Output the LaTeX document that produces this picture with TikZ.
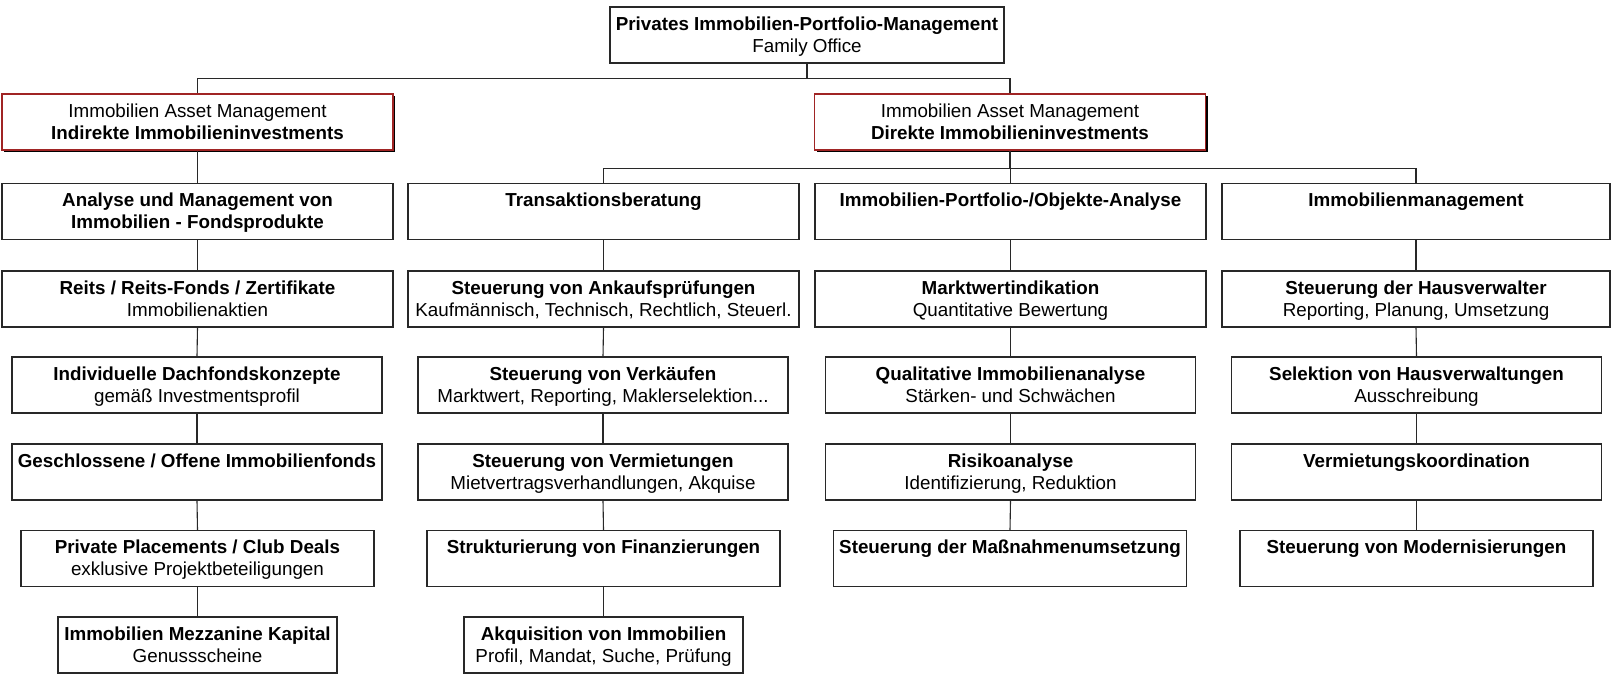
\documentclass[tikz,border=0pt]{standalone}
\usepackage{fontspec}
\setmainfont{Liberation Sans}
\usetikzlibrary{shadows}
\definecolor{redb}{RGB}{160,36,36}
\definecolor{linec}{RGB}{40,40,40}
\newcommand{\myT}{\rule{0pt}{8.7pt}}
\newcommand{\myB}{\rule[-2.3pt]{0pt}{2.3pt}}
\newcommand{\twoline}[2]{\myT#1\\#2\myB}
\tikzset{
 box/.style={draw=linec, line width=0.55pt, fill=white, align=center, inner sep=0pt,
   font=\fontsize{9.4pt}{11pt}\selectfont, minimum height=28pt},
 redbox/.style={box, draw=redb, drop shadow={shadow xshift=1pt, shadow yshift=-1pt, fill=black, opacity=1}},
 wA/.style={minimum width=195.5pt},
 wD/.style={minimum width=194pt},
 wB/.style={minimum width=185pt},
 wC/.style={minimum width=176.5pt},
 wE/.style={minimum width=139.5pt},
 wT/.style={minimum width=197pt},
 conn/.style={draw=linec, line width=0.55pt}
}
\begin{document}
\begin{tikzpicture}[x=0.5pt,y=-0.5pt]
\useasboundingbox (0,0) rectangle (1611,674);
% top
\node[box,wT] (top) at (807,35) {\twoline{\textbf{Privates Immobilien-Portfolio-Management}}{Family Office}};
\node[redbox,wA] (redL) at (197.5,122) {\twoline{Immobilien Asset Management}{\textbf{Indirekte Immobilieninvestments}}};
\node[redbox,wA] (redR) at (1010,122) {\twoline{Immobilien Asset Management}{\textbf{Direkte Immobilieninvestments}}};
% column 1
\node[box,wA] (a2) at (197.5,211.5) {\twoline{\textbf{Analyse und Management von}}{\textbf{Immobilien - Fondsprodukte}}};
\node[box,wA] (a3) at (197.5,299) {\twoline{\textbf{Reits / Reits-Fonds / Zertifikate}}{Immobilienaktien}};
\node[box,wB] (a4) at (197,385) {\twoline{\textbf{Individuelle Dachfondskonzepte}}{gemäß Investmentsprofil}};
\node[box,wB] (a5) at (197,472) {\twoline{\textbf{Geschlossene / Offene Immobilienfonds}}{}};
\node[box,wC] (a6) at (197.5,558.5) {\twoline{\textbf{Private Placements / Club Deals}}{exklusive Projektbeteiligungen}};
\node[box,wE] (a7) at (197.5,645) {\twoline{\textbf{Immobilien Mezzanine Kapital}}{Genussscheine}};
% column 2
\node[box,wA] (b2) at (603.5,211.5) {\twoline{\textbf{Transaktionsberatung}}{}};
\node[box,wA] (b3) at (603.5,299) {\twoline{\textbf{Steuerung von Ankaufsprüfungen}}{Kaufmännisch, Technisch, Rechtlich, Steuerl.}};
\node[box,wB] (b4) at (603,385) {\twoline{\textbf{Steuerung von Verkäufen}}{Marktwert, Reporting, Maklerselektion...}};
\node[box,wB] (b5) at (603,472) {\twoline{\textbf{Steuerung von Vermietungen}}{Mietvertragsverhandlungen, Akquise}};
\node[box,wC] (b6) at (603.5,558.5) {\twoline{\textbf{Strukturierung von Finanzierungen}}{}};
\node[box,wE] (b7) at (603.5,645) {\twoline{\textbf{Akquisition von Immobilien}}{Profil, Mandat, Suche, Prüfung}};
% column 3
\node[box,wA] (c2) at (1010.5,211.5) {\twoline{\textbf{Immobilien-Portfolio-/Objekte-Analyse}}{}};
\node[box,wA] (c3) at (1010.5,299) {\twoline{\textbf{Marktwertindikation}}{Quantitative Bewertung}};
\node[box,wB] (c4) at (1010.5,385) {\twoline{\textbf{Qualitative Immobilienanalyse}}{Stärken- und Schwächen}};
\node[box,wB] (c5) at (1010.5,472) {\twoline{\textbf{Risikoanalyse}}{Identifizierung, Reduktion}};
\node[box,wC] (c6) at (1010,558.5) {\twoline{\textbf{Steuerung der Maßnahmenumsetzung}}{}};
% column 4
\node[box,wD] (d2) at (1416,211.5) {\twoline{\textbf{Immobilienmanagement}}{}};
\node[box,wD] (d3) at (1416,299) {\twoline{\textbf{Steuerung der Hausverwalter}}{Reporting, Planung, Umsetzung}};
\node[box,wB] (d4) at (1416.5,385) {\twoline{\textbf{Selektion von Hausverwaltungen}}{Ausschreibung}};
\node[box,wB] (d5) at (1416.5,472) {\twoline{\textbf{Vermietungskoordination}}{}};
\node[box,wC] (d6) at (1416.5,558.5) {\twoline{\textbf{Steuerung von Modernisierungen}}{}};
% connectors
\draw[conn] (top.south) -- ++(0,15) -| (redL.north);
\draw[conn] (top.south) -- ++(0,15) -| (redR.north);
\draw[conn] (redL.south) -- (a2.north);
\draw[conn] (redR.south) -- ++(0,18) -| (b2.north);
\draw[conn] (redR.south) -- ++(0,18) -| (c2.north);
\draw[conn] (redR.south) -- ++(0,18) -| (d2.north);
\foreach \c in {a,b}{
  \draw[conn] (\c2.south) -- (\c3.north);
  \draw[conn] (\c3.south) -- (\c4.north);
  \draw[conn] (\c4.south) -- (\c5.north);
  \draw[conn] (\c5.south) -- (\c6.north);
  \draw[conn] (\c6.south) -- (\c7.north);
}
\foreach \c in {c,d}{
  \draw[conn] (\c2.south) -- (\c3.north);
  \draw[conn] (\c3.south) -- (\c4.north);
  \draw[conn] (\c4.south) -- (\c5.north);
  \draw[conn] (\c5.south) -- (\c6.north);
}
\end{tikzpicture}
\end{document}
